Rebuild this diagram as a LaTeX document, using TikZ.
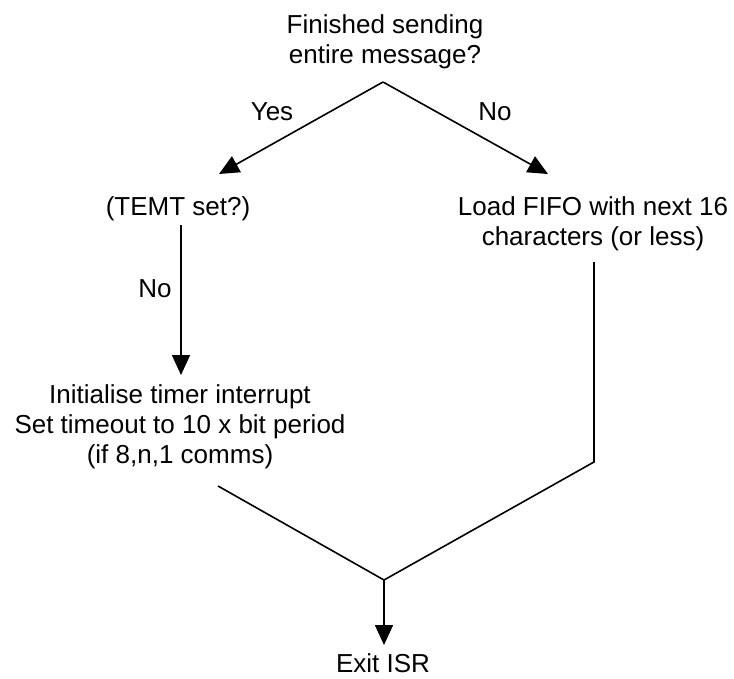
\documentclass[tikz,border=0pt]{standalone}
\usepackage{fontspec}
\setmainfont{Liberation Sans}
\usetikzlibrary{arrows.meta}
\tikzset{
  x=1pt, y=-1pt,
  label text/.style={anchor=base, inner sep=0pt, font=\fontsize{26}{30}\selectfont},
  flow/.style={line width=1.6pt, line join=miter},
  flowarrow/.style={flow, -{Triangle[length=20pt,width=18pt]}}
}
\newcommand{\stack}[1]{\begin{tabular}[t]{@{}c@{}}#1\end{tabular}}
\begin{document}
\begin{tikzpicture}
  \useasboundingbox (0,0) rectangle (734,678);

  % text blocks
  \node[label text] (question) at (385,33) {\stack{Finished sending\\entire message?}};
  \node[label text] (yes) at (272,120) {Yes};
  \node[label text] (notop) at (495,120) {No};
  \node[label text] (temt) at (178,215) {(TEMT set?)};
  \node[label text] (load) at (593,215) {\stack{Load FIFO with next 16\\characters (or less)}};
  \node[label text] (noleft) at (155,297) {No};
  \node[label text] (timer) at (180,403) {\stack{Initialise timer interrupt\\Set timeout to 10 x bit period\\(if 8,n,1 comms)}};
  \node[label text] (exit) at (383,672) {Exit ISR};

  % connector points
  \coordinate (apex) at (383,82);
  \coordinate (temtin) at (219,174);
  \coordinate (loadin) at (548,174);
  \coordinate (temtout) at (181,225);
  \coordinate (timerin) at (181,375);
  \coordinate (loadout) at (594,262);
  \coordinate (loadbend) at (594,462);
  \coordinate (timerout) at (218,486);
  \coordinate (merge) at (384,580);
  \coordinate (exitin) at (384,645);

  % connectors
  \draw[flowarrow] (apex) -- (temtin);
  \draw[flowarrow] (apex) -- (loadin);
  \draw[flowarrow] (temtout) -- (timerin);
  \draw[flow] (loadout) -- (loadbend) -- (merge);
  \draw[flow] (timerout) -- (merge);
  \draw[flowarrow] (merge) -- (exitin);
\end{tikzpicture}
\end{document}
